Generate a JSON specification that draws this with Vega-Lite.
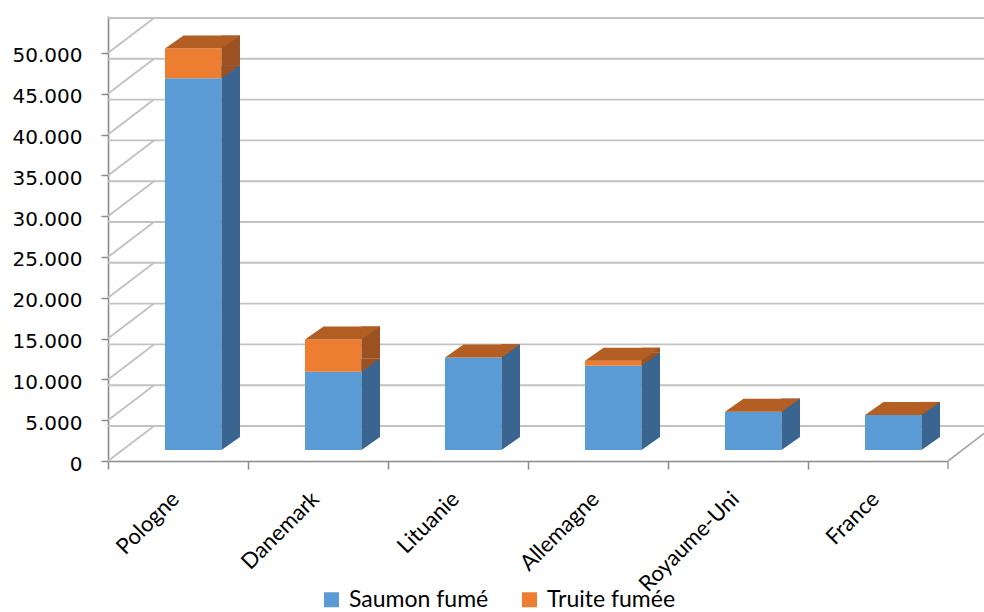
{
  "$schema": "https://vega.github.io/schema/vega-lite/v6.json",
  "autosize": "none",
  "padding": {"left": 108, "top": 16, "right": 36, "bottom": 151},
  "width": 840,
  "height": 445,
  "background": "white",
  "config": {
    "view": {"stroke": null},
    "font": "Lato"
  },
  "datasets": {
    "graduations": [
      {"v": 0}, {"v": 5000}, {"v": 10000}, {"v": 15000}, {"v": 20000}, {"v": 25000},
      {"v": 30000}, {"v": 35000}, {"v": 40000}, {"v": 45000}, {"v": 50000}
    ],
    "exports": [
      {"pays": "Pologne", "produit": "Saumon fumé", "volume": 45550},
      {"pays": "Pologne", "produit": "Truite fumée", "volume": 3650},
      {"pays": "Danemark", "produit": "Saumon fumé", "volume": 9600},
      {"pays": "Danemark", "produit": "Truite fumée", "volume": 3950},
      {"pays": "Lituanie", "produit": "Saumon fumé", "volume": 11350},
      {"pays": "Lituanie", "produit": "Truite fumée", "volume": 0},
      {"pays": "Allemagne", "produit": "Saumon fumé", "volume": 10330},
      {"pays": "Allemagne", "produit": "Truite fumée", "volume": 610},
      {"pays": "Royaume-Uni", "produit": "Saumon fumé", "volume": 4700},
      {"pays": "Royaume-Uni", "produit": "Truite fumée", "volume": 0},
      {"pays": "France", "produit": "Saumon fumé", "volume": 4300},
      {"pays": "France", "produit": "Truite fumée", "volume": 0}
    ]
  },
  "layer": [
    {
      "description": "back wall gridlines, pushed back in depth",
      "data": {"name": "graduations"},
      "mark": {"type": "rule", "color": "#C2C2C2", "strokeWidth": 1.9, "xOffset": 46, "x2Offset": 46, "yOffset": -35},
      "encoding": {
        "y": {"field": "v", "type": "quantitative", "scale": {"domain": [0, 54534], "nice": false}}
      }
    },
    {
      "description": "side wall lines joining the value axis to the back wall",
      "data": {"name": "graduations"},
      "mark": {"type": "point", "shape": "M0,0L46,-35", "size": 4, "filled": false, "stroke": "#C2C2C2", "strokeWidth": 1.9, "opacity": 1},
      "encoding": {
        "x": {"value": 0},
        "y": {"field": "v", "type": "quantitative", "scale": {"domain": [0, 54534], "nice": false}}
      }
    },
    {
      "description": "right edge of the floor and the closing category tick",
      "data": {"values": [{"v": 0}]},
      "mark": {"type": "point", "shape": "M0,0L46,-35M0,0L0,8", "size": 4, "filled": false, "stroke": "#A6A6A6", "strokeWidth": 1.6, "opacity": 1},
      "encoding": {
        "x": {"value": 840},
        "y": {"field": "v", "type": "quantitative", "scale": {"domain": [0, 54534], "nice": false}}
      }
    },
    {
      "description": "front faces of the stacked columns",
      "data": {"name": "exports"},
      "transform": [
        {"stack": "volume", "groupby": ["pays"], "sort": [{"field": "produit", "order": "ascending"}], "as": ["v0", "v1"]}
      ],
      "mark": {"type": "bar", "xOffset": 15.25, "x2Offset": 15.25, "yOffset": -11, "y2Offset": -11},
      "encoding": {
        "x": {
          "field": "pays", "type": "nominal", "sort": null,
          "scale": {"paddingInner": 0.5964, "paddingOuter": 0.2982},
          "axis": {
            "title": null, "labelAngle": -45, "labelFont": "Lato", "labelFontSize": 22, "labelColor": "#000000",
            "tickOffset": -70, "tickSize": 8, "tickColor": "#8A8A8A", "tickWidth": 1.5,
            "domainColor": "#8A8A8A", "domainWidth": 1.6, "labelPadding": 19, "labelOffset": 60
          }
        },
        "y": {
          "field": "v1", "type": "quantitative",
          "scale": {"domain": [0, 54534], "nice": false},
          "axis": {
            "title": null, "grid": false,
            "values": [0, 5000, 10000, 15000, 20000, 25000, 30000, 35000, 40000, 45000, 50000],
            "labelExpr": "replace(format(datum.value, ','), ',', '.')",
            "labelFont": "DejaVu Sans", "labelFontSize": 20, "labelColor": "#000000", "labelPadding": 19,
            "labelOffset": 3,
            "tickSize": 7, "tickColor": "#8A8A8A", "tickWidth": 1.5,
            "domainColor": "#8A8A8A", "domainWidth": 1.6
          }
        },
        "y2": {"field": "v0"},
        "color": {
          "field": "produit", "type": "nominal",
          "scale": {"domain": ["Saumon fumé", "Truite fumée"], "range": ["#5B9BD5", "#ED7D31"]},
          "legend": {
            "title": null, "orient": "none", "legendX": 212, "legendY": 572, "direction": "horizontal",
            "symbolType": "square", "symbolSize": 225, "symbolStrokeWidth": 0, "symbolOpacity": 1,
            "labelFont": "Lato", "labelFontSize": 23, "labelColor": "#000000", "labelOffset": 6,
            "columnPadding": 29
          }
        }
      }
    },
    {
      "description": "shaded right-hand sides of the columns",
      "data": {"name": "exports"},
      "transform": [
        {"stack": "volume", "groupby": ["pays"], "sort": [{"field": "produit", "order": "ascending"}], "as": ["v0", "v1"]}
      ],
      "mark": {"type": "bar", "width": 18.5, "xOffset": 52.75, "x2Offset": 52.75, "yOffset": -24, "y2Offset": -24},
      "encoding": {
        "x": {"field": "pays", "type": "nominal", "sort": null},
        "y": {"field": "v1", "type": "quantitative", "scale": {"domain": [0, 54534], "nice": false}},
        "y2": {"field": "v0"},
        "fill": {
          "field": "produit", "type": "nominal",
          "scale": {"domain": ["Saumon fumé", "Truite fumée"], "range": ["#3A6591", "#9C5122"]},
          "legend": null
        }
      }
    },
    {
      "description": "lower corner of each shaded side segment",
      "data": {"name": "exports"},
      "transform": [
        {"stack": "volume", "groupby": ["pays"], "sort": [{"field": "produit", "order": "ascending"}], "as": ["v0", "v1"]}
      ],
      "mark": {"type": "point", "shape": "M28.25,0L28.25,-13L46.75,-13Z", "size": 4, "filled": true, "opacity": 1, "strokeWidth": 0, "xOffset": 15.25, "yOffset": -11},
      "encoding": {
        "x": {"field": "pays", "type": "nominal", "sort": null},
        "y": {"field": "v0", "type": "quantitative", "scale": {"domain": [0, 54534], "nice": false}},
        "fill": {
          "field": "produit", "type": "nominal",
          "scale": {"domain": ["Saumon fumé", "Truite fumée"], "range": ["#3A6591", "#9C5122"]},
          "legend": null
        }
      }
    },
    {
      "description": "top faces of the columns",
      "data": {"name": "exports"},
      "transform": [
        {"stack": "volume", "groupby": ["pays"], "sort": [{"field": "produit", "order": "ascending"}], "as": ["v0", "v1"]},
        {"filter": "datum.produit === 'Truite fumée'"}
      ],
      "mark": {"type": "point", "shape": "M-28.25,0L28.25,0L46.75,-13L-9.75,-13Z", "size": 4, "filled": true, "opacity": 1, "fill": "#B35E22", "strokeWidth": 0, "xOffset": 15.25, "yOffset": -11},
      "encoding": {
        "x": {"field": "pays", "type": "nominal", "sort": null},
        "y": {"field": "v1", "type": "quantitative", "scale": {"domain": [0, 54534], "nice": false}}
      }
    }
  ]
}
